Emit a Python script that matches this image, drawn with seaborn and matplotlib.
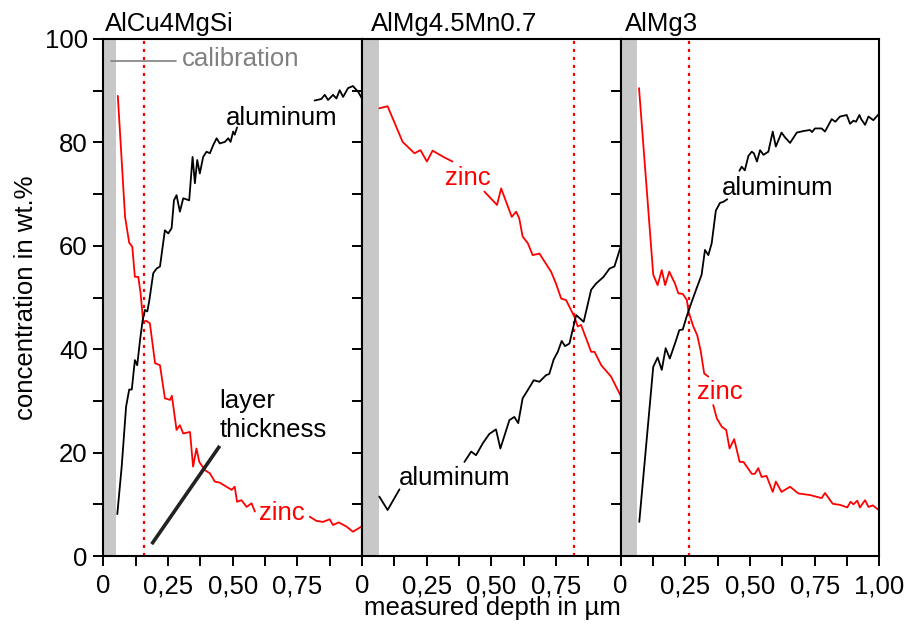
import numpy as np
import pandas as pd
import matplotlib
matplotlib.use("Agg")
import matplotlib.pyplot as plt
import seaborn as sns

# ---------------- data ----------------
panel_titles = ["AlCu4MgSi", "AlMg4.5Mn0.7", "AlMg3"]
calib_width = [0.05, 0.065, 0.065]
layer_pos = [0.157, 0.819, 0.265]

nan = np.nan
# Panel 1 : AlCu4MgSi
p1_zn_x = [0.056, 0.084, 0.1, 0.112, 0.122, 0.135, 0.144, 0.154, 0.165, 0.18, 0.2, 0.219, 0.238, 0.258,
           0.265, 0.283, 0.296, 0.309, 0.335, 0.347, 0.36, 0.371, 0.393, 0.412, 0.431, 0.45, 0.476, 0.496,
           0.508, 0.517, 0.534, 0.554, 0.573, 0.586, nan, 0.798, 0.824, 0.849, 0.875, 0.888, 0.91, 0.94,
           0.965, 0.998]
p1_zn_y = [89, 65.6, 60.6, 59.8, 54, 54, 50.9, 45.3, 45.5, 45, 37.3, 36.9, 30.5, 30.2,
           31, 24.4, 25.3, 23.7, 24, 17.3, 20.8, 18.2, 16.6, 16, 14.4, 14.2, 13.4, 12.8,
           13.4, 10.5, 10.8, 9.5, 10.2, 8.6, nan, 7.6, 6.8, 6.6, 7.1, 6.0, 6.5, 5.7,
           4.7, 5.7]
p1_al_x = [0.054, 0.071, 0.088, 0.1, 0.11, 0.122, 0.131, 0.142, 0.152, 0.161, 0.17, 0.178, 0.193, 0.206,
           0.219, 0.238, 0.251, 0.264, 0.273, 0.283, 0.296, 0.309, 0.332, 0.345, 0.354, 0.363, 0.373,
           0.386, 0.399, 0.412, 0.425, 0.438, 0.45, 0.47, 0.483, 0.492, 0.502, 0.508, 0.517, nan,
           0.817, 0.843, 0.856, 0.869, 0.888, 0.901, 0.914, 0.927, 0.946, 0.965, 0.985, 1.0]
p1_al_y = [8.1, 17.3, 28.9, 32.2, 32.2, 37.9, 36.9, 41.8, 45.6, 47.6, 47.3, 49.5, 54.7, 55.6,
           56, 63, 62.4, 63.4, 68.8, 69.8, 66.6, 69.2, 68.8, 77.2, 72.1, 76.6, 74,
           77.2, 78.2, 77.9, 79.5, 80.8, 79.8, 80.1, 80.8, 80.1, 82.1, 81.5, 82.9, nan,
           88.1, 88.4, 89.2, 88.2, 89.2, 88.5, 90.1, 88.8, 90.5, 90.9, 89.8, 88.5]

# Panel 2 : AlMg4.5Mn0.7
p2_zn_x = [0.067, 0.099, 0.157, 0.203, 0.226, 0.251, 0.273, 0.318, 0.35, nan, 0.473, 0.522, 0.538, 0.579,
           0.596, 0.608, 0.621, 0.641, 0.66, 0.686, 0.718, 0.731, 0.75, 0.77, 0.789, 0.821, 0.834, 0.847,
           0.886, 0.899, 0.925, 0.963, 0.989, 1.0]
p2_zn_y = [86.6, 87, 80.1, 77.9, 78.5, 76.3, 78.4, 77.1, 76.3, nan, 70.5, 67.9, 71.1, 65.6,
           66.6, 65.3, 61.8, 60.5, 58.2, 58.5, 56, 55, 52.7, 49.8, 49.5, 46.3, 44.4, 44.7,
           39.5, 39.5, 36.9, 34.7, 32.1, 31]
p2_al_x = [0.067, 0.099, 0.145, nan, 0.396, 0.422, 0.441, 0.467, 0.492, 0.518, 0.535, 0.57, 0.589, 0.604,
           0.621, 0.641, 0.664, 0.686, 0.712, 0.724, 0.741, 0.757, 0.772, 0.785, 0.802, 0.828, 0.857,
           0.886, 0.905, 0.934, 0.957, 0.976, 1.0]
p2_al_y = [11.5, 8.9, 12.9, nan, 18.2, 20.2, 19.5, 21.8, 23.6, 24.5, 20.8, 26.3, 26.9, 25.7,
           30.5, 32.1, 34, 33.7, 35, 35.2, 38, 39.5, 41.6, 40.6, 41.1, 46.6, 45.3,
           51.5, 52.7, 54, 55.6, 56, 59.8]

# Panel 3 : AlMg3
p3_zn_x = [0.071, 0.126, 0.143, 0.159, 0.172, 0.188, 0.21, 0.223, 0.24, 0.256, 0.262, 0.281, 0.296, 0.309,
           0.323, 0.339, nan, 0.358, 0.372, 0.391, 0.408, 0.421, 0.439, 0.46, 0.475, 0.507, 0.519, 0.532,
           0.545, 0.564, 0.588, 0.6, 0.622, 0.655, 0.687, 0.732, 0.777, 0.79, 0.82, 0.848, 0.876, 0.889,
           0.9, 0.915, 0.925, 0.945, 0.958, 0.975, 1.0]
p3_zn_y = [90.5, 54.4, 52.4, 55.3, 52.4, 55, 52.7, 50.8, 50.7, 49.5, 47.3, 44.4, 42.7, 39.8,
           35.3, 34.7, nan, 29.2, 26.6, 25, 24.4, 20.8, 22.6, 18.2, 18.2, 15.9, 15.9, 17,
           15.3, 15.5, 12.4, 14.4, 12.4, 13.4, 12.1, 11.8, 11.2, 12.2, 10.1, 9.9, 9.4, 10.5,
           10.0, 10.7, 9.4, 10.8, 9.5, 9.8, 8.8]
p3_al_x = [0.072, 0.126, 0.143, 0.159, 0.174, 0.19, 0.21, 0.227, 0.24, 0.255, 0.275, 0.296, 0.313, 0.326,
           0.339, 0.352, 0.368, 0.384, 0.397, 0.412, nan, 0.459, 0.468, 0.48, 0.494, 0.507, 0.515, 0.527,
           0.539, 0.552, 0.571, 0.588, 0.6, 0.622, 0.635, 0.655, 0.681, 0.707, 0.732, 0.74, 0.751, 0.777,
           0.79, 0.816, 0.83, 0.848, 0.874, 0.887, 0.9, 0.91, 0.923, 0.93, 0.945, 0.958, 0.977, 1.0]
p3_al_y = [6.6, 36.6, 38.4, 36, 40.2, 38.2, 41.1, 43.7, 43.8, 46.3, 49.2, 52.1, 54.4, 59.2,
           58.2, 60.5, 66.8, 68.3, 68.5, 69, nan, 74.5, 75.3, 74.6, 77.4, 78.2, 77.9, 76.3,
           78.5, 77.6, 78.2, 82.1, 79.2, 81.9, 81, 79.9, 81.9, 82.2, 82.4, 82, 82.7, 82.7,
           82.1, 84.5, 84, 85, 85.3, 83.6, 84.2, 84, 85.3, 84.5, 83.4, 85, 84.3, 85.6]

x_ticks = [0, 0.125, 0.25, 0.375, 0.5, 0.625, 0.75, 0.875, 1.0]
x_ticklabels_12 = ["0", "", "0,25", "", "0,50", "", "0,75", "", ""]
x_ticklabels_3 = ["0", "", "0,25", "", "0,50", "", "0,75", "", "1,00"]
y_ticks = list(range(0, 101, 10))
y_ticklabels = ["0", "", "20", "", "40", "", "60", "", "80", "", "100"]

series = [
    (p1_zn_x, p1_zn_y, p1_al_x, p1_al_y),
    (p2_zn_x, p2_zn_y, p2_al_x, p2_al_y),
    (p3_zn_x, p3_zn_y, p3_al_x, p3_al_y),
]

# ---------------- styling ----------------
sns.set_theme(style="white")
plt.rcParams["font.family"] = ["Liberation Sans", "DejaVu Sans"]
plt.rcParams["text.color"] = "black"
plt.rcParams["axes.labelcolor"] = "black"
plt.rcParams["xtick.color"] = "black"
plt.rcParams["ytick.color"] = "black"
FS = 18.5
RED = "#ff0000"
GREY = "#808080"


def to_frame(xs, ys):
    df = pd.DataFrame({"x": xs, "y": ys})
    df["seg"] = df["x"].isna().cumsum()
    return df.dropna()


fig = plt.figure(figsize=(9.08, 6.28), dpi=100)
gs = fig.add_gridspec(1, 3, left=0.1138, right=0.9684, bottom=0.1146, top=0.9379, wspace=0)
axes = [fig.add_subplot(gs[0, i]) for i in range(3)]

for i, ax in enumerate(axes):
    zx, zy, ax_, ay = series[i]
    ax.axvspan(0, calib_width[i], color="#c8c8c8", lw=0, zorder=0)
    ax.axvline(layer_pos[i], color=RED, lw=1.6, ls=(0, (1.4, 2.2)), zorder=1)
    sns.lineplot(data=to_frame(zx, zy), x="x", y="y", units="seg", estimator=None, sort=False,
                 color=RED, lw=1.3, ax=ax, legend=False, zorder=3)
    sns.lineplot(data=to_frame(ax_, ay), x="x", y="y", units="seg", estimator=None, sort=False,
                 color="black", lw=1.3, ax=ax, legend=False, zorder=3)
    ax.set_xlim(0, 1)
    ax.set_ylim(0, 100)
    ax.set_xlabel("")
    ax.set_ylabel("")
    ax.set_xticks(x_ticks)
    ax.set_xticklabels(x_ticklabels_3 if i == 2 else x_ticklabels_12)
    ax.set_yticks(y_ticks)
    ax.set_yticklabels(y_ticklabels if i == 0 else [""] * len(y_ticks))
    ax.tick_params(axis="both", which="both", direction="out", length=7.2, width=1.4,
                   color="black", labelsize=FS, labelcolor="black", bottom=True, left=True,
                   right=False, top=False)
    ax.tick_params(axis="x", pad=6)
    ax.tick_params(axis="y", pad=4)
    for sp in ax.spines.values():
        sp.set_color("black")
        sp.set_linewidth(1.5)
        sp.set_zorder(5)
    ax.text([0.008, 0.035, 0.017][i], 1.0155, panel_titles[i], transform=ax.transAxes,
            ha="left", va="baseline", fontsize=FS, color="black")

a1, a2, a3 = axes
# panel 1 annotations
a1.plot([0.03, 0.28], [95.8, 95.8], color=GREY, lw=1.2)
a1.text(0.303, 94.8, "calibration", color=GREY, fontsize=FS, ha="left", va="baseline")
a1.text(0.474, 83.4, "aluminum", color="black", fontsize=FS, ha="left", va="baseline")
a1.text(0.602, 7.0, "zinc", color=RED, fontsize=FS, ha="left", va="baseline")
a1.text(0.45, 28.6, "layer", color="black", fontsize=FS, ha="left", va="baseline")
a1.text(0.45, 23.1, "thickness", color="black", fontsize=FS, ha="left", va="baseline")
a1.plot([0.187, 0.45], [2.3, 21.3], color="#222222", lw=2.6, solid_capstyle="butt", zorder=4)
# panel 2 annotations
a2.text(0.322, 71.8, "zinc", color=RED, fontsize=FS, ha="left", va="baseline")
a2.text(0.144, 13.7, "aluminum", color="black", fontsize=FS, ha="left", va="baseline")
# panel 3 annotations
a3.text(0.39, 69.8, "aluminum", color="black", fontsize=FS, ha="left", va="baseline")
a3.text(0.296, 30.3, "zinc", color=RED, fontsize=FS, ha="left", va="baseline")

fig.text(492 / 908, (628 - 615) / 628, "measured depth in \u00b5m", fontsize=FS,
         ha="center", va="baseline", color="black")
fig.text(33 / 908, 1 - 297.5 / 628, "concentration in wt.%", fontsize=FS, rotation=90,
         rotation_mode="anchor", ha="center", va="baseline", color="black")

fig.savefig("out.png", dpi=100)
